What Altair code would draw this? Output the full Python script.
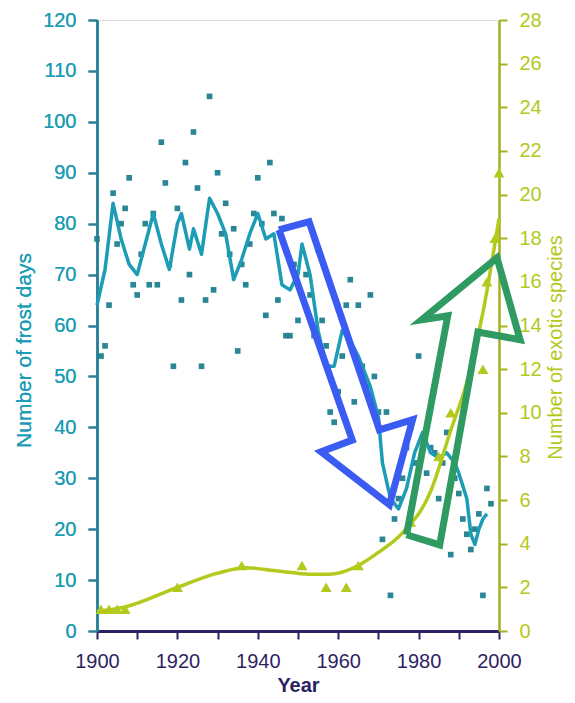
import altair as alt
import pandas as pd

# ---- data ----
frost_years = list(range(1900, 1999))
frost_days = [77, 54, 56, 64, 86, 76, 80, 83, 89, 68,
              66, 74, 80, 68, 82, 68, 96, 88, 72, 52,
              83, 65, 92, 70, 98, 87, 52, 65, 105, 67,
              90, 78, 84, 74, 79, 55, 72, 68, 76, 82,
              89, 80, 62, 92, 82, 65, 81, 58, 58, 72,
              61, 80, 70, 66, 58, 75, 61, 56, 43, 41,
              47, 54, 64, 69, 45, 64, 52, 48, 66, 50,
              43, 18, 43, 7, 22, 26, 30, 36, 40, 33,
              54, 38, 31, 36, 35, 26, 33, 39, 15, 30,
              27, 22, 19, 16, 20, 23, 7, 28, 25]

mean_years = [1900, 1902, 1904, 1906, 1908, 1910, 1912, 1914, 1916, 1918,
              1920, 1921, 1923, 1924, 1926, 1928, 1930, 1932, 1934, 1936,
              1938, 1940, 1942, 1944, 1946, 1948, 1950, 1951, 1953, 1955,
              1957, 1959, 1961, 1963, 1965, 1968, 1970, 1971, 1973, 1975,
              1977, 1979, 1981, 1983, 1985, 1987, 1989, 1990, 1992, 1993,
              1994, 1995, 1996, 1997]
mean_days = [64, 71, 84, 77, 72, 70, 76, 82, 76, 71,
             80, 82, 75, 79, 74, 85, 82, 78, 69, 73,
             78, 82, 77, 78, 68, 67, 70, 76, 70, 59,
             52, 52, 59, 57, 54, 48, 42, 33, 26, 24,
             28, 35, 39, 35, 34, 35, 33, 31, 26, 19,
             17, 20, 22, 23]

species_years = [1901, 1903, 1905, 1907, 1920, 1936, 1951, 1957, 1962, 1965,
                 1978, 1985, 1988, 1996, 1997, 1999, 2000]
species_counts = [1, 1, 1, 1, 2, 3, 3, 2, 2, 3,
                  5, 8, 10, 12, 16, 18, 21]

fit_years = [1900, 1907, 1920, 1930, 1937, 1945, 1953, 1958, 1965, 1970,
             1976, 1983, 1988, 1992, 1996, 2000]
fit_counts = [0.9, 1.1, 2.0, 2.65, 2.9, 2.75, 2.6, 2.6, 3.0, 3.6,
              4.5, 6.4, 9.2, 11.4, 14.6, 18.9]

# annotation arrows (outline polygons, in year / frost-day units)
down_arrow_x = [1945.25, 1952.75, 1970.25, 1978.5, 1972.75, 1955.75, 1963.5, 1945.25]
down_arrow_y = [78.8, 80.4, 39.5, 41.5, 24.8, 35.2, 37.5, 78.8]
up_arrow_x = [1977.0, 1985.25, 1994.75, 2005.25, 1999.5, 1980.75, 1987.25, 1977.0]
up_arrow_y = [18.9, 16.9, 58.7, 57.2, 73.3, 61.1, 61.9, 18.9]

# ---- styling ----
TEAL = "#1c9db5"
DOT = "#1f7f8e"
LIME = "#b3c91c"
NAVY = "#2d1f63"
FONT = "Liberation Sans"

frost_df = pd.DataFrame({"year": frost_years, "days": frost_days})
mean_df = pd.DataFrame({"year": mean_years, "days": mean_days})
sp_df = pd.DataFrame({"year": species_years, "count": species_counts})
fit_df = pd.DataFrame({"year": fit_years, "count": fit_counts})
down_df = pd.DataFrame({"year": down_arrow_x, "days": down_arrow_y, "o": list(range(len(down_arrow_x)))})
up_df = pd.DataFrame({"year": up_arrow_x, "days": up_arrow_y, "o": list(range(len(up_arrow_x)))})

x_axis = alt.Axis(
    values=list(range(1900, 2001, 10)),
    labelExpr="datum.value % 20 == 0 ? toString(datum.value) : ''",
    title="Year", titleFont=FONT, titleFontSize=20, titleFontWeight="bold",
    titleColor=NAVY, titleY=54, titleBaseline="middle",
    labelFont=FONT, labelFontSize=20, labelColor=NAVY, labelPadding=12,
    domainColor=NAVY, domainWidth=3, tickColor=NAVY, tickWidth=2, tickSize=8,
    grid=False, labelFlush=False,
)
x_enc = alt.X("year:Q", scale=alt.Scale(domain=[1900, 2000], nice=False, zero=False), axis=x_axis)

y_left_axis = alt.Axis(
    values=list(range(0, 121, 10)),
    title="Number of frost days", titleFont=FONT, titleFontSize=21, titleFontWeight="normal",
    titleColor=TEAL, titleAngle=270, titleX=-73, titleY=330, titleAlign="center",
    titleBaseline="middle",
    labelFont=FONT, labelFontSize=20, labelColor=TEAL, labelPadding=12,
    domainColor="#2a7f95", domainWidth=2.5, tickColor="#2a7f95", tickWidth=2, tickSize=9,
    grid=False,
)
y_left = alt.Y("days:Q", scale=alt.Scale(domain=[0, 120], nice=False), axis=y_left_axis)

y_right_axis = alt.Axis(
    orient="right",
    values=list(range(0, 29, 2)),
    title="Number of exotic species", titleFont=FONT, titleFontSize=20, titleFontWeight="normal",
    titleColor=LIME, titleAngle=270, titleX=56, titleY=327, titleAlign="center",
    titleBaseline="middle",
    labelFont=FONT, labelFontSize=20, labelColor=LIME, labelPadding=12,
    domainColor="#a3b21e", domainWidth=2.5, tickColor="#a3b21e", tickWidth=2, tickSize=8,
    grid=False,
)
y_right = alt.Y("count:Q", scale=alt.Scale(domain=[0, 28], nice=False), axis=y_right_axis)

dots = alt.Chart(frost_df).mark_square(size=32, color=DOT, opacity=0.95).encode(x=x_enc, y=y_left)
mean_line = alt.Chart(mean_df).mark_line(color=TEAL, strokeWidth=3.5, strokeJoin="round").encode(x=x_enc, y=y_left)
down_arrow = alt.Chart(down_df).mark_line(color="#3b5cf2", strokeWidth=7, strokeJoin="miter",
                                          strokeMiterLimit=10).encode(x=x_enc, y=y_left, order="o:Q")
up_arrow = alt.Chart(up_df).mark_line(color="#2f9a62", strokeWidth=7, strokeJoin="miter",
                                      strokeMiterLimit=10).encode(x=x_enc, y=y_left, order="o:Q")

fit_line = alt.Chart(fit_df).mark_line(color=LIME, strokeWidth=3.5, interpolate="monotone").encode(x=x_enc, y=y_right)
tri = alt.Chart(sp_df).mark_point(shape="triangle-up", filled=True, size=120, color=LIME, opacity=1).encode(x=x_enc, y=y_right)

frost_layer = alt.layer(dots, mean_line)
species_layer = alt.layer(fit_line, tri)
arrows = alt.layer(down_arrow, up_arrow)

chart = alt.layer(frost_layer, species_layer, arrows).resolve_scale(y="independent").properties(
    width=402, height=611,
    autosize=alt.AutoSizeParams(type="none"),
    padding={"left": 89, "top": 12, "right": 68, "bottom": 64},
).configure_view(stroke=None).configure(background="white")

chart.save("out.html", embed_options={"renderer": "svg", "actions": False})
